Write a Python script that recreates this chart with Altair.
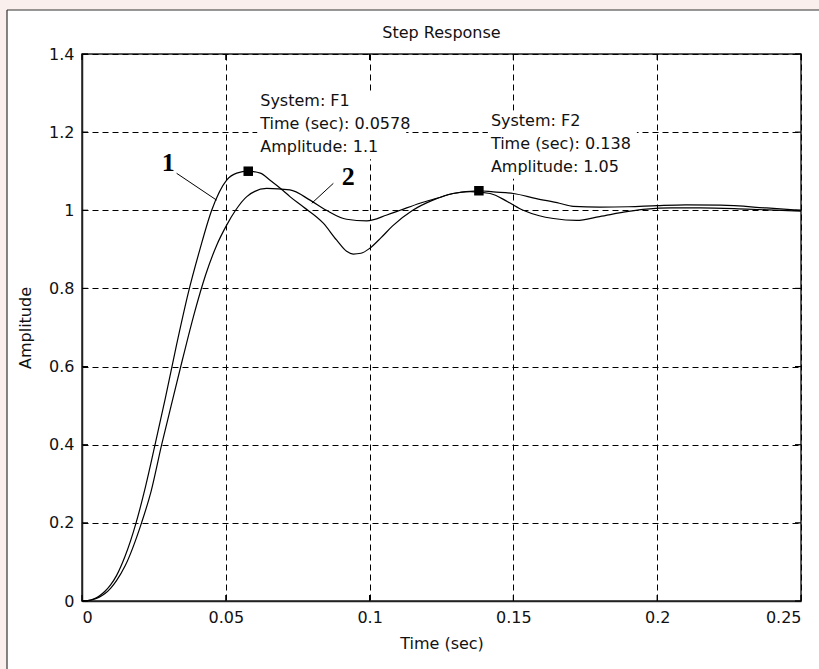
import altair as alt
import pandas as pd

# Step responses of the two systems (time in seconds, amplitude)
t1 = [0, 0.002, 0.004, 0.006, 0.008, 0.010, 0.012, 0.015, 0.0188, 0.022, 0.0254,
      0.029, 0.033, 0.037, 0.041, 0.0451, 0.0503, 0.0538, 0.0578, 0.062, 0.0654,
      0.070, 0.0723, 0.0769, 0.0839, 0.0885, 0.092, 0.0943, 0.097, 0.1001, 0.104,
      0.108, 0.115, 0.122, 0.129, 0.135, 0.1419, 0.148, 0.1534, 0.159, 0.1639,
      0.172, 0.180, 0.190, 0.1963, 0.205, 0.215, 0.231, 0.250]
v1 = [0, 0.001, 0.005, 0.013, 0.025, 0.042, 0.065, 0.115, 0.20, 0.29, 0.40,
      0.52, 0.66, 0.79, 0.90, 1.0, 1.077, 1.095, 1.10, 1.095, 1.077,
      1.05, 1.035, 1.009, 0.967, 0.924, 0.895, 0.888, 0.89, 0.903, 0.93,
      0.96, 1.0, 1.026, 1.043, 1.048, 1.043, 1.022, 1.0, 0.986, 0.979,
      0.974, 0.984, 0.997, 1.003, 1.006, 1.006, 1.003, 0.998]

t2 = [0, 0.002, 0.004, 0.006, 0.008, 0.010, 0.012, 0.015, 0.0207, 0.024, 0.0277,
      0.031, 0.035, 0.039, 0.043, 0.0468, 0.0503, 0.0534, 0.0573, 0.0642, 0.0723,
      0.0793, 0.085, 0.092, 0.099, 0.106, 0.1106, 0.1175, 0.124, 0.129, 0.138,
      0.143, 0.150, 0.158, 0.166, 0.1708, 0.180, 0.190, 0.200, 0.210, 0.222,
      0.238, 0.250]
v2 = [0, 0.001, 0.004, 0.010, 0.019, 0.033, 0.052, 0.09, 0.20, 0.28, 0.40,
      0.50, 0.62, 0.735, 0.835, 0.91, 0.962, 1.0, 1.035, 1.056, 1.052,
      1.026, 1.0, 0.977, 0.973, 0.988, 1.0, 1.018, 1.032, 1.043, 1.05,
      1.047, 1.043, 1.03, 1.018, 1.01, 1.008, 1.009, 1.012, 1.014, 1.013,
      1.006, 1.0]

x_ticks = [0, 0.05, 0.1, 0.15, 0.2, 0.25]
y_ticks = [0, 0.2, 0.4, 0.6, 0.8, 1.0, 1.2, 1.4]

# Data-tip markers
tip_system = ["F1", "F2"]
tip_time = [0.0578, 0.138]
tip_amp = [1.1, 1.05]

# Curve numbers with their pointer lines
curve_id = ["1", "2"]
id_t = [0.0300, 0.0926]
id_v = [1.120, 1.086]
ptr_t0 = [0.0329, 0.0874]
ptr_v0 = [1.0947, 1.069]
ptr_t1 = [0.0468, 0.0799]
ptr_v1 = [1.026, 1.018]

W, H = 719, 547
PAD_L, PAD_T, PAD_R, PAD_B = 82, 54, 18, 68
FONT = "DejaVu Sans"
PINK = "#fbefed"
T_MAX, V_MAX = 0.25, 1.4
PX_T, PX_V = T_MAX / W, V_MAX / H   # data units per pixel

curves = pd.concat([
    pd.DataFrame({"t": t1, "v": v1, "series": "F1"}),
    pd.DataFrame({"t": t2, "v": v2, "series": "F2"}),
])
tips = pd.DataFrame({
    "t": tip_time, "v": tip_amp,
    "label": [f"System: {s}\nTime (sec): {t}\nAmplitude: {a}"
              for s, t, a in zip(tip_system, tip_time, tip_amp)],
})
# white box behind each data-tip text, sized in pixels around the marker
tip_box = pd.DataFrame({
    "t": [t + 9 * PX_T for t in tip_time],
    "t2": [t + 158 * PX_T for t in tip_time],
    "v": [a + 12 * PX_V for a in tip_amp],
    "v2": [a + 80 * PX_V for a in tip_amp],
})
ids = pd.DataFrame({"t": id_t, "v": id_v, "label": curve_id})
ptrs = pd.DataFrame({"t": ptr_t0, "v": ptr_v0, "t2": ptr_t1, "v2": ptr_v1})
xt = pd.DataFrame({"t": x_ticks})
yt = pd.DataFrame({"v": y_ticks})
one = pd.DataFrame({"a": [0]})

xs = alt.Scale(domain=[0, T_MAX], nice=False, zero=False)
ys = alt.Scale(domain=[0, V_MAX], nice=False, zero=False)

common_axis = dict(
    ticks=False, format="~g",
    grid=True, gridDash=[6, 4], gridColor="black", gridOpacity=1, gridWidth=1,
    domainColor="#222", domainWidth=1.5,
    labelFont=FONT, labelFontSize=16, labelColor="#111", labelPadding=8,
    titleFont=FONT, titleFontSize=16, titleFontWeight="normal", titleColor="#111",
)
x_axis = alt.Axis(values=x_ticks, title="Time (sec)", titlePadding=10, **common_axis)
y_axis = alt.Axis(
    values=y_ticks, title="Amplitude",
    titleX=-57, titleY=H / 2, titleAngle=-90, titleAlign="center", titleBaseline="middle",
    **common_axis,
)

# Figure surround: pink margin strips and the window frame line
strip_left = alt.Chart(one).mark_rect(fill=PINK).encode(
    x=alt.value(-PAD_L), x2=alt.value(-75), y=alt.value(-PAD_T), y2=alt.value(H + PAD_B))
strip_top = alt.Chart(one).mark_rect(fill=PINK).encode(
    x=alt.value(-PAD_L), x2=alt.value(W + PAD_R), y=alt.value(-PAD_T), y2=alt.value(-44))
frame_left = alt.Chart(one).mark_rule(color="#333", strokeWidth=1.2).encode(
    x=alt.value(-75), y=alt.value(-44), y2=alt.value(H + PAD_B))
frame_top = alt.Chart(one).mark_rule(color="#333", strokeWidth=1.2).encode(
    x=alt.value(-75), x2=alt.value(W + PAD_R), y=alt.value(-44))

title = alt.Chart(one).mark_text(
    font=FONT, fontSize=16, color="#111", align="center", baseline="middle",
).encode(x=alt.value(W / 2), y=alt.value(-21), text=alt.value("Step Response"))

lines = alt.Chart(curves).mark_line(
    color="black", strokeWidth=1.2, interpolate="monotone"
).encode(
    x=alt.X("t:Q", scale=xs, axis=x_axis),
    y=alt.Y("v:Q", scale=ys, axis=y_axis),
    detail="series:N",
)

# Inward ticks on all four sides of the box
tick_b = alt.Chart(xt).mark_rule(color="black", strokeWidth=1.2).encode(
    x=alt.X("t:Q", scale=xs), y=alt.value(H), y2=alt.value(H - 6))
tick_t = alt.Chart(xt).mark_rule(color="black", strokeWidth=1.2).encode(
    x=alt.X("t:Q", scale=xs), y=alt.value(0), y2=alt.value(6))
tick_l = alt.Chart(yt).mark_rule(color="black", strokeWidth=1.2).encode(
    y=alt.Y("v:Q", scale=ys), x=alt.value(0), x2=alt.value(6))
tick_r = alt.Chart(yt).mark_rule(color="black", strokeWidth=1.2).encode(
    y=alt.Y("v:Q", scale=ys), x=alt.value(W), x2=alt.value(W - 6))

boxes = alt.Chart(tip_box).mark_rect(fill="white").encode(
    x=alt.X("t:Q", scale=xs), x2="t2:Q", y=alt.Y("v:Q", scale=ys), y2="v2:Q")

markers = alt.Chart(tips).mark_square(size=90, color="black", opacity=1).encode(
    x=alt.X("t:Q", scale=xs), y=alt.Y("v:Q", scale=ys))

tip_text = alt.Chart(tips).mark_text(
    align="left", baseline="top", dx=12, dy=-78, lineBreak="\n", lineHeight=23,
    font=FONT, fontSize=16, color="#111",
).encode(x=alt.X("t:Q", scale=xs), y=alt.Y("v:Q", scale=ys), text="label:N")

pointers = alt.Chart(ptrs).mark_rule(color="black", strokeWidth=1).encode(
    x=alt.X("t:Q", scale=xs), y=alt.Y("v:Q", scale=ys), x2="t2:Q", y2="v2:Q")

id_text = alt.Chart(ids).mark_text(
    font="Liberation Serif", fontSize=26, fontWeight="bold", color="black",
    align="center", baseline="middle",
).encode(x=alt.X("t:Q", scale=xs), y=alt.Y("v:Q", scale=ys), text="label:N")

chart = alt.layer(
    strip_left, strip_top, frame_left, frame_top, title,
    lines, tick_b, tick_t, tick_l, tick_r, boxes, pointers, markers, tip_text, id_text,
).properties(
    width=W, height=H,
    padding={"left": PAD_L, "top": PAD_T, "right": PAD_R, "bottom": PAD_B},
    autosize=alt.AutoSizeParams(type="none"),
    background="white",
).configure_view(stroke="#222", strokeWidth=1.5, fill=None)

chart.save("out.html", embed_options={"renderer": "svg", "actions": False})
